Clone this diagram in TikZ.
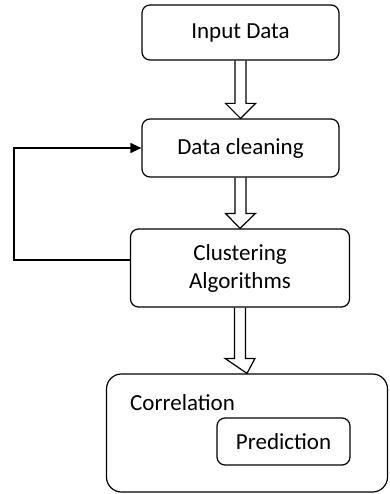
\documentclass[tikz,border=0pt]{standalone}
\usepackage{fontspec}
\setmainfont{Carlito}
\usetikzlibrary{arrows.meta,calc}
\begin{document}
\begin{tikzpicture}[
    x=1pt, y=-1pt,
    box/.style={draw, line width=1.2pt, rounded corners=8pt, font=\fontsize{23}{28}\selectfont, align=center},
    blockarrow/.style={draw, line width=1.2pt, to path={
        let \p1=(\tikztostart), \p2=(\tikztotarget) in
        (\x1-5.5pt,\y1) -- (\x1-5.5pt,\y2+15pt) -- (\x1-15pt,\y2+15pt) -- (\x2,\y2)
        -- (\x1+15pt,\y2+15pt) -- (\x1+5.5pt,\y2+15pt) -- (\x1+5.5pt,\y1)}},
    ptr/.style={-{Triangle[length=11pt,width=10pt]}, line width=1.2pt}
]
\useasboundingbox (0,0) rectangle (389,494);

% Steps
\node[box, minimum width=197pt, minimum height=55pt] (input) at (240.5,32.5) {Input Data};
\node[box, minimum width=197pt, minimum height=58pt] (clean) at (240.5,148) {Data cleaning};
\node[box, minimum width=219pt, minimum height=78pt] (clust) at (240,268) {Clustering\\Algorithms};

% Correlation with prediction inside
\node[box, rounded corners=15pt, minimum width=281pt, minimum height=118pt] (corr) at (247,433) {};
\node[font=\fontsize{23}{28}\selectfont, anchor=base west, inner sep=0pt] (corrlabel) at (130,410) {Correlation};
\node[box, minimum width=133pt, minimum height=47pt] (pred) at (283.5,441.5) {Prediction};

% Hollow arrows between steps
\draw[blockarrow] (input.south) to (clean.north);
\draw[blockarrow] (clean.south) to (clust.north);
\draw[blockarrow] (clust.south) to (corr.north);

% Feedback back to cleaning
\draw[ptr] ([yshift=8pt]clust.west) -- ++(-116,0) |- (clean.west);
\end{tikzpicture}
\end{document}
